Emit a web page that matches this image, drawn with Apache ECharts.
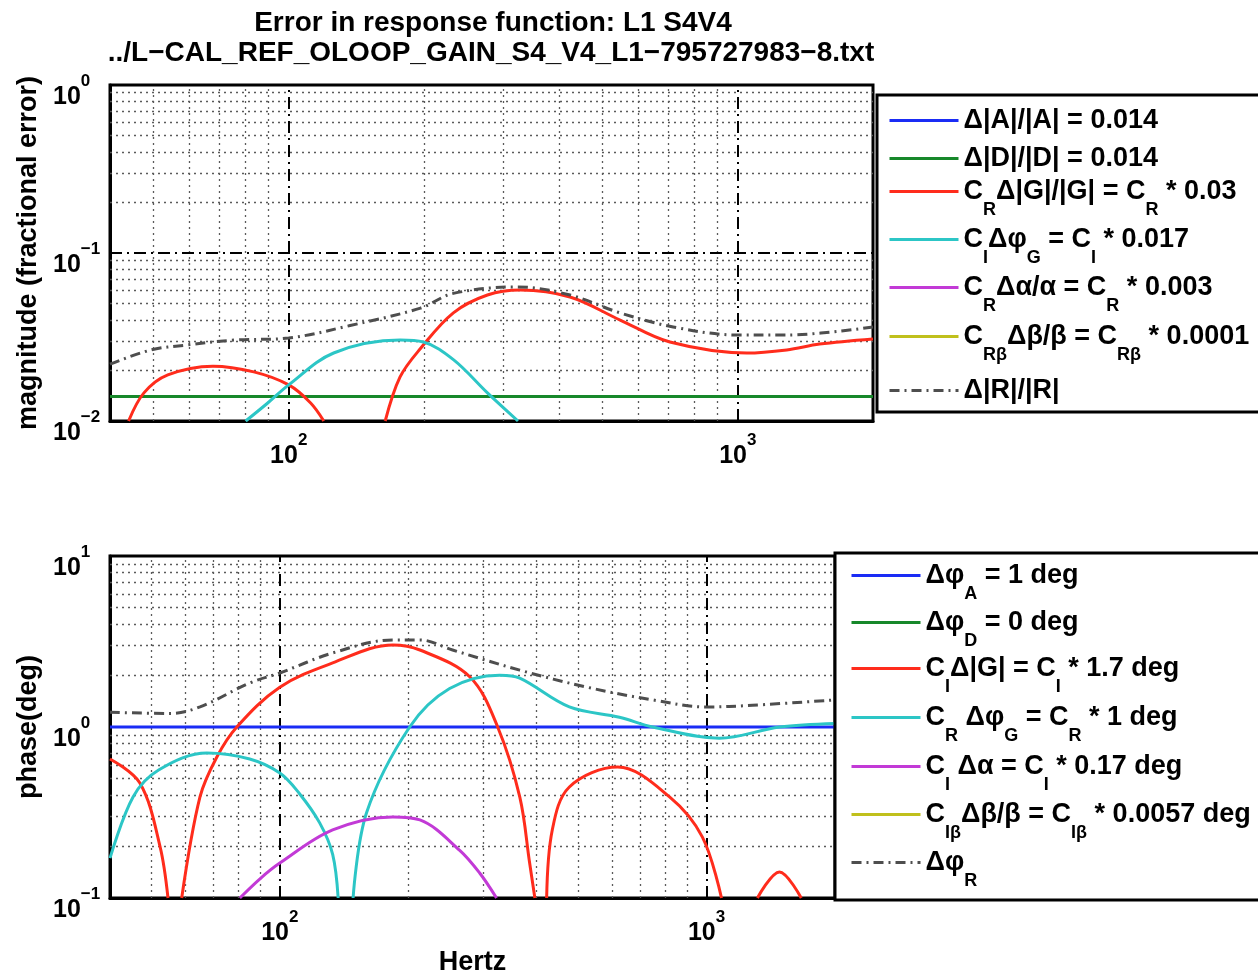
<!DOCTYPE html>
<html><head><meta charset="utf-8">
<script src="https://cdn.jsdelivr.net/npm/echarts@6/dist/echarts.min.js"></script>
<style>html,body{margin:0;padding:0;background:#fff}#c{width:1258px;height:977px}</style>
</head><body><div id="c"></div>
<script>
// ---------- data ----------
const titleLines = ['Error in response function: L1 S4V4', '../L\u2212CAL_REF_OLOOP_GAIN_S4_V4_L1\u2212795727983\u22128.txt'];
const freqRange = [40, 2000];
const magRange = [0.01, 1];
const phaseRange = [0.1, 10];
const majorFreq = [100, 1000];
const minorFreq = [50, 60, 70, 80, 90, 200, 300, 400, 500, 600, 700, 800, 900];
const majorMag = [0.1];
const minorMag = [0.02, 0.03, 0.04, 0.05, 0.06, 0.07, 0.08, 0.09, 0.2, 0.3, 0.4, 0.5, 0.6, 0.7, 0.8, 0.9];
const majorPhase = [1];
const minorPhase = [0.2, 0.3, 0.4, 0.5, 0.6, 0.7, 0.8, 0.9, 2, 3, 4, 5, 6, 7, 8, 9];

// magnitude panel series  [Hz, fractional error]
const magA = [[40, 0.014], [2000, 0.014]];
const magD = [[40, 0.014], [2000, 0.014]];
const magG = [[44, 0.01], [47.6, 0.0147], [53.8, 0.0188], [67.8, 0.0212], [83.6, 0.0196], [100, 0.0164], [111.9, 0.0128], [119.7, 0.01], null,
  [164, 0.01], [177, 0.0183], [196.5, 0.027], [232.6, 0.044], [277, 0.0562], [328, 0.0602], [423, 0.0547], [547, 0.0399], [706, 0.0295], [1047, 0.0254], [1285, 0.0265], [1521, 0.0287], [2000, 0.0308]];
const magPhiG = [[80.2, 0.01], [89.8, 0.0128], [100, 0.0164], [125.9, 0.0254], [177, 0.0303], [199.5, 0.0295], [233, 0.0231], [277, 0.0147], [324, 0.01]];
const magAlpha = [];
const magBeta = [];
const magR = [[40, 0.0218], [49.4, 0.0265], [59, 0.0283], [75.5, 0.0303], [100, 0.0312], [137, 0.037], [196.5, 0.047], [232.6, 0.0575], [322.9, 0.0628], [423, 0.0562], [547, 0.044], [718, 0.0363], [1000, 0.0325], [1285, 0.0325], [2000, 0.0363]];

// phase panel series  [Hz, deg]
const phA = [[40, 1], [2000, 1]];
const phD = [];
const phG = [[40, 0.65], [47, 0.47], [52.4, 0.2], [54.7, 0.1], null,
  [58.9, 0.1], [65, 0.39], [71.2, 0.668], [79.3, 1.0], [100, 1.71], [133, 2.37], [184, 3.02], [213, 2.82], [279, 1.96], [324, 1.0], [365, 0.39], [385, 0.16], [396, 0.1], null,
  [422, 0.1], [435, 0.25], [477, 0.446], [619, 0.583], [819, 0.39], [978, 0.227], [1084, 0.1], null,
  [1316, 0.1], [1482, 0.142], [1667, 0.1]];
const phPhiG = [[40, 0.171], [45.3, 0.39], [52, 0.56], [67.5, 0.705], [85, 0.65], [100, 0.538], [111, 0.41], [124, 0.275], [133, 0.18], [137, 0.1], null,
  [148.5, 0.1], [159.6, 0.314], [201.5, 1.0], [250, 1.68], [327.5, 2.01], [365, 1.93], [477, 1.31], [625, 1.14], [748, 1.0], [1071, 0.86], [1482, 1.0], [2000, 1.05]];
const phAlpha = [[80.6, 0.1], [90, 0.13], [100, 0.16], [133, 0.25], [184, 0.298], [213, 0.286], [264, 0.19], [294, 0.14], [322, 0.1]];
const phBeta = [];
const phR = [[40, 1.22], [55.2, 1.2], [65, 1.31], [85, 1.81], [100, 2.07], [133, 2.71], [184, 3.23], [213, 3.23], [254, 2.82], [365, 2.15], [524, 1.71], [748, 1.44], [1000, 1.31], [1282, 1.34], [2000, 1.44]];

// legend texts (rich: n = normal, s = subscript)
const legendText = {
  magA: '{n|Δ|A|/|A| = 0.014}',
  magD: '{n|Δ|D|/|D| = 0.014}',
  magG: '{n|C}{s|R}{n|Δ|G|/|G| = C}{s|R}{n| * 0.03}',
  magPhiG: '{n|C}{s|I}{n|Δφ}{s|G}{n| = C}{s|I}{n| * 0.017}',
  magAlpha: '{n|C}{s|R}{n|Δα/α = C}{s|R}{n| * 0.003}',
  magBeta: '{n|C}{s|Rβ}{n|Δβ/β = C}{s|Rβ}{n| * 0.0001}',
  magR: '{n|Δ|R|/|R|}',
  phA: '{n|Δφ}{s|A}{n| = 1 deg}',
  phD: '{n|Δφ}{s|D}{n| = 0 deg}',
  phG: '{n|C}{s|I}{n|Δ|G| = C}{s|I}{n| * 1.7 deg}',
  phPhiG: '{n|C}{s|R}{n| Δφ}{s|G}{n| = C}{s|R}{n| * 1 deg}',
  phAlpha: '{n|C}{s|I}{n| Δα = C}{s|I}{n| * 0.17 deg}',
  phBeta: '{n|C}{s|Iβ}{n|Δβ/β = C}{s|Iβ}{n| * 0.0057 deg}',
  phR: '{n|Δφ}{s|R}'
};

// ---------- styling ----------
const FONT = '"Liberation Sans", Arial, Helvetica, sans-serif';
const COL = {blue: '#1a2cf5', green: '#17882a', red: '#ff2c1c', cyan: '#2cc6c6', magenta: '#c23ad6', olive: '#c0c01c', gray: '#4e4e4e'};
const LW = 3;
const dashDot = [10, 5, 2, 5];
const minorStyle = {color: '#5a5a5a', width: 1.3, type: [2, 4]};
const majorStyle = {color: '#000', width: 2, type: [12, 5, 2, 5]};

const tickRich = {
  b: {fontFamily: FONT, fontWeight: 'bold', fontSize: 25, lineHeight: 25, padding: [12, 0, 0, 0], verticalAlign: 'top', color: '#000'},
  s: {fontFamily: FONT, fontWeight: 'bold', fontSize: 17, lineHeight: 17, verticalAlign: 'top', color: '#000'}
};
function tickFmt(v) {
  const l = Math.log10(v), e = Math.round(l);
  if (Math.abs(l - e) > 1e-4) return '';
  return '{b|10}{s|' + (e < 0 ? '\u2212' + (-e) : e) + '}';
}
const legRich = {
  n: {fontFamily: FONT, fontWeight: 'bold', fontSize: 27, lineHeight: 27, verticalAlign: 'top', color: '#000'},
  s: {fontFamily: FONT, fontWeight: 'bold', fontSize: 18, lineHeight: 18, padding: [23, 0, 0, 0], verticalAlign: 'top', color: '#000'}
};
const nameStyle = {fontFamily: FONT, fontWeight: 'bold', fontSize: 27, color: '#000'};

function xAxisOf(gi, extra) {
  return Object.assign({
    type: 'log', logBase: 10, gridIndex: gi, min: freqRange[0], max: freqRange[1],
    axisLine: {onZero: false, lineStyle: {color: '#000', width: 3}},
    axisTick: {show: true, inside: true, length: 9, lineStyle: {color: '#000', width: 2}},
    splitLine: {show: false},
    axisLabel: {formatter: tickFmt, rich: tickRich, margin: 11, showMinLabel: true, showMaxLabel: true}
  }, extra || {});
}
function yAxisOf(gi, range, name) {
  return {
    type: 'log', logBase: 10, gridIndex: gi, min: range[0], max: range[1],
    name: name, nameLocation: 'middle', nameGap: 68, nameTextStyle: nameStyle,
    axisLine: {onZero: false, lineStyle: {color: '#000', width: 3}},
    axisTick: {show: true, inside: true, length: 9, lineStyle: {color: '#000', width: 2}},
    splitLine: {show: false},
    axisLabel: {formatter: tickFmt, rich: tickRich, margin: 57, align: 'left'}
  };
}
function gridLines(gi, minorY, majorY) {
  const d = [];
  minorFreq.forEach(v => d.push({xAxis: v, lineStyle: minorStyle}));
  minorY.forEach(v => d.push({yAxis: v, lineStyle: minorStyle}));
  majorFreq.forEach(v => d.push({xAxis: v, lineStyle: majorStyle}));
  majorY.forEach(v => d.push({yAxis: v, lineStyle: majorStyle}));
  return {
    type: 'line', name: 'grid' + gi, xAxisIndex: gi, yAxisIndex: gi, data: [], silent: true, z: 1,
    markLine: {silent: true, z: 1, symbol: ['none', 'none'], label: {show: false}, emphasis: {disabled: true}, animation: false, data: d}
  };
}
function lineSeries(name, gi, data, color, dashed) {
  return {
    type: 'line', name: name, xAxisIndex: gi, yAxisIndex: gi, data: data,
    showSymbol: false, symbol: 'none', smooth: 0.35, connectNulls: false, clip: true, z: dashed ? 4 : 3,
    lineStyle: {color: color, width: LW, type: dashed ? dashDot : 'solid'},
    itemStyle: {color: color}, emphasis: {disabled: true}
  };
}

const series = [
  gridLines(0, minorMag, majorMag),
  gridLines(1, minorPhase, majorPhase),
  lineSeries('magA', 0, magA, COL.blue),
  lineSeries('magD', 0, magD, COL.green),
  lineSeries('magG', 0, magG, COL.red),
  lineSeries('magPhiG', 0, magPhiG, COL.cyan),
  lineSeries('magAlpha', 0, magAlpha, COL.magenta),
  lineSeries('magBeta', 0, magBeta, COL.olive),
  lineSeries('magR', 0, magR, COL.gray, true),
  lineSeries('phA', 1, phA, COL.blue),
  lineSeries('phD', 1, phD, COL.green),
  lineSeries('phG', 1, phG, COL.red),
  lineSeries('phPhiG', 1, phPhiG, COL.cyan),
  lineSeries('phAlpha', 1, phAlpha, COL.magenta),
  lineSeries('phBeta', 1, phBeta, COL.olive),
  lineSeries('phR', 1, phR, COL.gray, true)
];

const topLegendNames = ['magA', 'magD', 'magG', 'magPhiG', 'magAlpha', 'magBeta', 'magR'];
const topLegendTops = [107, 145, 178, 226, 274, 323, 377];
const botLegendNames = ['phA', 'phD', 'phG', 'phPhiG', 'phAlpha', 'phBeta', 'phR'];
const botLegendTops = [562, 609, 655, 704, 753, 801, 849];
const legends = [];
function addLegends(names, tops, left) {
  names.forEach((nm, i) => legends.push({
    data: [nm], left: left, top: tops[i], orient: 'vertical', padding: 0, itemGap: 0,
    itemWidth: 69, itemHeight: 14, selectedMode: false, z: 10,
    itemStyle: {opacity: 0, borderWidth: 0},
    lineStyle: {width: 3},
    formatter: n => legendText[n],
    textStyle: {rich: legRich, fontFamily: FONT, fontWeight: 'bold', fontSize: 27, color: '#000'}
  }));
}
addLegends(topLegendNames, topLegendTops, 888);
addLegends(botLegendNames, botLegendTops, 850);

const option = {
  animation: false,
  backgroundColor: '#fff',
  grid: [
    {left: 110, top: 85, width: 763, height: 336, show: true, borderColor: '#000', borderWidth: 3, backgroundColor: 'transparent'},
    {left: 110, top: 556, width: 725, height: 342, show: true, borderColor: '#000', borderWidth: 3, backgroundColor: 'transparent'}
  ],
  xAxis: [
    xAxisOf(0),
    xAxisOf(1, {name: 'Hertz', nameLocation: 'middle', nameGap: 51, nameTextStyle: nameStyle})
  ],
  yAxis: [
    yAxisOf(0, magRange, 'magnitude (fractional error)'),
    yAxisOf(1, phaseRange, 'phase(deg)')
  ],
  legend: legends,
  graphic: [
    {type: 'rect', z: 5, shape: {x: 877, y: 95, width: 400, height: 317}, style: {fill: '#fff', stroke: '#000', lineWidth: 3}},
    {type: 'rect', z: 5, shape: {x: 835, y: 553, width: 440, height: 347}, style: {fill: '#fff', stroke: '#000', lineWidth: 3}},
    {type: 'text', z: 5, style: {text: titleLines[0], x: 493, y: 23, align: 'center', verticalAlign: 'middle', font: 'bold 28px ' + FONT, fill: '#000'}},
    {type: 'text', z: 5, style: {text: titleLines[1], x: 491, y: 53, align: 'center', verticalAlign: 'middle', font: 'bold 28px ' + FONT, fill: '#000'}}
  ],
  series: series
};
const chart = echarts.init(document.getElementById('c'), null, {renderer: 'canvas'});
chart.setOption(option);
</script></body></html>
